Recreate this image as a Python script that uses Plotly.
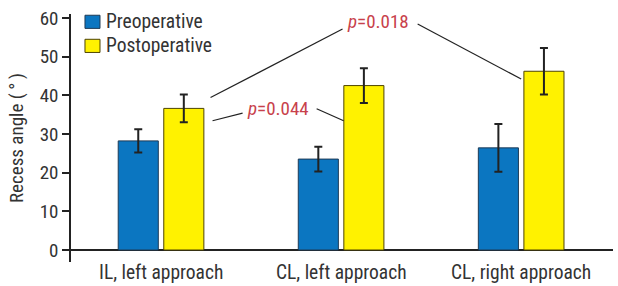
import plotly.graph_objects as go

categories = ["IL, left approach", "CL, left approach", "CL, right approach"]
pre_values = [28.2, 23.5, 26.4]
pre_errors = [3.0, 3.2, 6.2]
post_values = [36.6, 42.5, 46.2]
post_errors = [3.6, 4.5, 6.0]
series_names = ["Preoperative", "Postoperative"]
series_colors = ["#0b76c1", "#fff200"]
series_edges = ["#1e3a55", "#4d4300"]
y_ticks = [0, 10, 20, 30, 40, 50, 60]
p_labels = ["<i>p</i>=0.018", "<i>p</i>=0.044"]
y_title = "Recess angle (\u2009°\u2009)"

FONT = "Roboto Condensed, Roboto, sans-serif"
TEXT = "#333333"
RED = "#c8414b"

fig = go.Figure()
for name, vals, errs, col, edge in [
    (series_names[0], pre_values, pre_errors, series_colors[0], series_edges[0]),
    (series_names[1], post_values, post_errors, series_colors[1], series_edges[1]),
]:
    fig.add_trace(go.Bar(
        name=name, x=categories, y=vals, showlegend=False,
        marker=dict(color=col, line=dict(color=edge, width=1)),
        error_y=dict(type="data", array=errs, color="#222222", thickness=2, width=4),
    ))

# connector lines for p-values (data coordinates)
line_style = dict(color="#222222", width=1.2)
segments = [
    (0.275, 39.4, 1.008, 57.1),
    (1.425, 58.4, 2.0, 44.2),
    (0.286, 33.4, 0.453, 35.4),
    (0.864, 36.5, 1.014, 33.4),
]
for x0, y0, x1, y1 in segments:
    fig.add_shape(type="line", xref="x", yref="y", x0=x0, y0=y0, x1=x1, y1=y1, line=line_style)

fig.add_annotation(x=1.203, y=59.0, xref="x", yref="y", text=p_labels[0], showarrow=False,
                   font=dict(family=FONT, size=19, color=RED))
fig.add_annotation(x=0.647, y=36.5, xref="x", yref="y", text=p_labels[1], showarrow=False,
                   font=dict(family=FONT, size=19, color=RED))

# category labels under the axis
for i, c in enumerate(categories):
    fig.add_annotation(x=i, y=0, xref="x", yref="paper", yanchor="top", yshift=3, text=c,
                       showarrow=False, font=dict(family=FONT, size=19.5, color=TEXT))

# manual legend (top-left inside plot)
leg_rows = [(0.995, 0.942), (0.898, 0.845)]
for (ytop, ybot), name, col, edge in zip(leg_rows, series_names, series_colors, series_edges):
    fig.add_shape(type="rect", xref="paper", yref="paper", x0=0.0258, x1=0.0535, y0=ybot, y1=ytop,
                  fillcolor=col, line=dict(color=edge, width=1))
    fig.add_annotation(x=0.061, y=(ytop + ybot) / 2, xref="paper", yref="paper", xanchor="left",
                       yanchor="middle", text=name, showarrow=False,
                       font=dict(family=FONT, size=19.5, color=TEXT))

fig.update_layout(
    width=618, height=286,
    margin=dict(l=71, r=5, t=14, b=24, autoexpand=False),
    paper_bgcolor="white", plot_bgcolor="white",
    barmode="group", bargap=0.494, bargroupgap=0.12,
    font=dict(family=FONT, size=18, color=TEXT),
    showlegend=False,
    xaxis=dict(type="category", range=[-0.5, 2.51], showline=False, showgrid=False,
               zeroline=False, ticks="", showticklabels=False),
    yaxis=dict(range=[-3.1, 61], tickvals=y_ticks, showline=True, linecolor="#222222",
               linewidth=1.5, ticks="outside", ticklen=7, tickwidth=1.5, tickcolor="#222222",
               showgrid=False, zeroline=True, zerolinecolor="#222222", zerolinewidth=1.5,
               tickfont=dict(family=FONT, size=19, color=TEXT), automargin=False,
               title=dict(text=y_title, font=dict(family=FONT, size=19, color=TEXT), standoff=11)),
)

fig.write_html("out.html", config={"displayModeBar": False},
               post_script="document.body.style.margin='0';document.body.style.overflow='hidden';")
